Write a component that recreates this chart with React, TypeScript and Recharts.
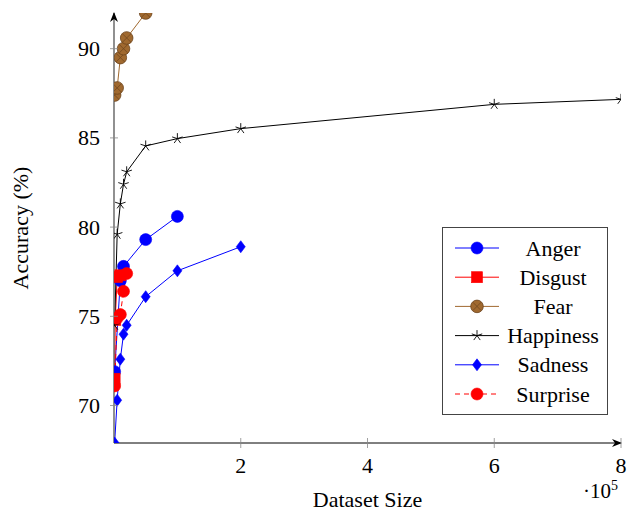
import { Legend, Line, LineChart, XAxis, YAxis } from "recharts";

const FONT = '"Liberation Serif", "Times New Roman", Times, serif';
const FS = 22;
const BLUE = "#0000ff";
const RED = "#ff0000";
const BROWN = "#a0692f";

// dataset sizes are in units of 10^5
const angerX = [0.01, 0.1, 0.15, 0.5, 1];
const angerY = [71.9, 77.0, 77.8, 79.3, 80.6];
const disgustX = [0.01, 0.02, 0.05, 0.1];
const disgustY = [71.5, 74.8, 77.2, 77.3];
const fearX = [0.01, 0.05, 0.1, 0.15, 0.2, 0.5];
const fearY = [87.4, 87.8, 89.5, 90.0, 90.6, 92.0];
const happinessX = [0.01, 0.05, 0.1, 0.15, 0.2, 0.5, 1, 2, 6, 8];
const happinessY = [74.5, 79.6, 81.3, 82.4, 83.1, 84.55, 84.96, 85.52, 86.88, 87.16];
const sadnessX = [0.01, 0.05, 0.1, 0.15, 0.2, 0.5, 1, 2];
const sadnessY = [67.9, 70.3, 72.6, 74.0, 74.5, 76.1, 77.55, 78.9];
const surpriseX = [0.01, 0.05, 0.1, 0.15, 0.2];
const surpriseY = [71.1, 74.9, 75.1, 76.4, 77.4];

const xTicks = [2, 4, 6, 8];
const yTicks = [70, 75, 80, 85, 90];

const pts = (xs: number[], ys: number[]) => xs.map((x, i) => ({ x, y: ys[i] }));

type Kind = "circle" | "square" | "otimes" | "star" | "diamond";

const series: { name: string; color: string; kind: Kind; dash?: string; data: { x: number; y: number }[] }[] = [
  { name: "Anger", color: BLUE, kind: "circle", data: pts(angerX, angerY) },
  { name: "Disgust", color: RED, kind: "square", data: pts(disgustX, disgustY) },
  { name: "Fear", color: BROWN, kind: "otimes", data: pts(fearX, fearY) },
  { name: "Happiness", color: "#000000", kind: "star", data: pts(happinessX, happinessY) },
  { name: "Sadness", color: BLUE, kind: "diamond", data: pts(sadnessX, sadnessY) },
  { name: "Surprise", color: RED, kind: "circle", dash: "5 4", data: pts(surpriseX, surpriseY) },
];

const textStyle = { fontFamily: FONT, fontSize: FS, fill: "#000" };

function Marker({ kind, cx, cy, color }: { kind: Kind; cx: number; cy: number; color: string }) {
  if (cx == null || cy == null) return <g />;
  if (kind === "circle") return <circle cx={cx} cy={cy} r={6} fill={color} stroke={color} strokeWidth={0.6} />;
  if (kind === "square")
    return <rect x={cx - 5.5} y={cy - 5.5} width={11} height={11} fill={color} stroke={color} strokeWidth={0.6} />;
  if (kind === "diamond")
    return (
      <polygon
        points={`${cx},${cy - 6} ${cx + 4.5},${cy} ${cx},${cy + 6} ${cx - 4.5},${cy}`}
        fill={color}
        stroke={color}
        strokeWidth={0.6}
      />
    );
  if (kind === "otimes") {
    const d = 4.2;
    return (
      <g>
        <circle cx={cx} cy={cy} r={6.3} fill={color} stroke="#6b431c" strokeWidth={0.8} />
        <line x1={cx - d} y1={cy - d} x2={cx + d} y2={cy + d} stroke="#6b431c" strokeWidth={0.7} />
        <line x1={cx - d} y1={cy + d} x2={cx + d} y2={cy - d} stroke="#6b431c" strokeWidth={0.7} />
      </g>
    );
  }
  // five-spoke star
  return (
    <g>
      {[0, 1, 2, 3, 4].map((k) => {
        const a = ((-90 + k * 72) * Math.PI) / 180;
        return (
          <line key={k} x1={cx} y1={cy} x2={cx + 5.5 * Math.cos(a)} y2={cy + 5.5 * Math.sin(a)} stroke={color} strokeWidth={0.9} />
        );
      })}
    </g>
  );
}

function XTick({ x, y, payload }: any) {
  return (
    <g>
      <line x1={x} x2={x} y1={y - 5} y2={y + 5} stroke="#888" strokeWidth={0.8} />
      <text x={x} y={y + 30} textAnchor="middle" style={textStyle}>
        {payload.value}
      </text>
    </g>
  );
}

function YTick({ x, y, payload }: any) {
  return (
    <g>
      <line x1={x - 4} x2={x + 4} y1={y} y2={y} stroke="#888" strokeWidth={0.8} />
      <text x={x - 14} y={y + 7.5} textAnchor="end" style={textStyle}>
        {payload.value}
      </text>
    </g>
  );
}

function XLabel({ viewBox }: any) {
  const { x, y, width } = viewBox;
  return (
    <g>
      <text x={x + width / 2} y={y + 64} textAnchor="middle" style={textStyle}>
        Dataset Size
      </text>
      <text x={x + width - 3} y={y + 55} textAnchor="end" style={{ ...textStyle, fontSize: 21 }}>
        ·10<tspan dy={-8} style={{ fontSize: 14 }}>5</tspan>
      </text>
    </g>
  );
}

function YLabel({ viewBox }: any) {
  const { y, height } = viewBox;
  const cx = 28;
  const cy = y + height / 2;
  return (
    <text x={cx} y={cy} transform={`rotate(-90 ${cx} ${cy})`} textAnchor="middle" style={textStyle}>
      Accuracy (%)
    </text>
  );
}

function LegendBox() {
  return (
    <svg width={166} height={188} style={{ display: "block" }}>
      <rect x={0.5} y={0.5} width={165} height={187} fill="#fff" stroke="#444" strokeWidth={1} />
      {series.map((s, i) => {
        const cy = 21 + i * 29.2;
        return (
          <g key={s.name}>
            <line x1={13} x2={57} y1={cy} y2={cy} stroke={s.color} strokeWidth={1} strokeDasharray={s.dash} />
            <Marker kind={s.kind} cx={35} cy={cy} color={s.color} />
            <text x={111} y={cy + 7.5} textAnchor="middle" style={textStyle}>
              {s.name}
            </text>
          </g>
        );
      })}
    </svg>
  );
}

export default function App() {
  return (
    <div style={{ position: "absolute", left: 0, top: 0, width: 635, height: 515, background: "#fff" }}>
      <LineChart width={635} height={515} margin={{ top: 13, right: 14, bottom: 0, left: 0 }}>
        <defs>
          <marker
            id="axArrow"
            viewBox="0 0 10 10"
            refX={9}
            refY={5}
            markerWidth={10}
            markerHeight={10}
            markerUnits="userSpaceOnUse"
            orient="auto-start-reverse"
          >
            <path d="M0,1 L10,5 L0,9 L3,5 Z" fill="#000" />
          </marker>
        </defs>
        <XAxis
          type="number"
          dataKey="x"
          domain={[0, 8]}
          ticks={xTicks}
          height={72}
          tickSize={0}
          tickMargin={0}
          tickLine={false}
          axisLine={{ stroke: "#000", strokeWidth: 1, markerEnd: "url(#axArrow)" } as any}
          tick={(p: any) => <XTick key={`xt-${p.index}`} {...p} />}
          label={(p: any) => <XLabel {...p} />}
          allowDataOverflow
        />
        <YAxis
          type="number"
          dataKey="y"
          domain={[67.9, 92]}
          ticks={yTicks}
          width={114}
          tickSize={0}
          tickMargin={0}
          tickLine={false}
          axisLine={{ stroke: "#555", strokeWidth: 1.3, markerStart: "url(#axArrow)" } as any}
          tick={(p: any) => <YTick key={`yt-${p.index}`} {...p} />}
          label={(p: any) => <YLabel {...p} />}
          allowDataOverflow
        />
        {series.map((s) => (
          <Line
            key={s.name}
            data={s.data}
            dataKey="y"
            name={s.name}
            type="linear"
            stroke={s.color}
            strokeWidth={1}
            strokeDasharray={s.dash}
            isAnimationActive={false}
            activeDot={false}
            dot={(p: any) => <Marker key={`${s.name}-${p.index}`} kind={s.kind} cx={p.cx} cy={p.cy} color={s.color} />}
          />
        ))}
        <Legend
          layout="vertical"
          align="center"
          verticalAlign="middle"
          content={() => <LegendBox />}
          wrapperStyle={{ left: 442, top: 227, width: 166, height: 188 }}
        />
      </LineChart>
    </div>
  );
}
